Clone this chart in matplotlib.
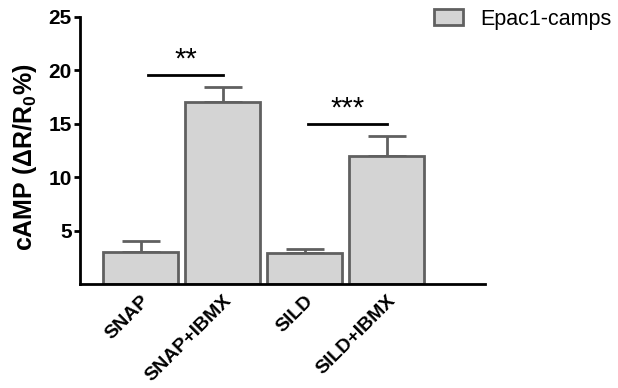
import matplotlib
matplotlib.use("Agg")
import matplotlib.pyplot as plt
import numpy as np

categories = ["SNAP", "SNAP+IBMX", "SILD", "SILD+IBMX"]
means = [3.0, 17.0, 2.9, 12.0]
errors = [1.0, 1.4, 0.4, 1.9]
yticks = [5, 10, 15, 20, 25]
# significance brackets: (x start, x end, height, label)
sig_marks = [(0.09, 1.0, 19.6, "**"), (2.04, 3.0, 15.0, "***")]

plt.rcParams["font.family"] = ["Liberation Sans", "DejaVu Sans"]
plt.rcParams["mathtext.fontset"] = "custom"
plt.rcParams["mathtext.rm"] = "Liberation Sans:bold"
plt.rcParams["mathtext.bf"] = "Liberation Sans:bold"

fill = "#d4d4d4"
edge = "#606060"

fig = plt.figure(figsize=(6.18, 3.88), dpi=100)
ax = fig.add_axes([80 / 618, 104 / 388, 405 / 618, 267 / 388])

x = np.arange(len(categories))
ax.bar(x, means, width=0.91, color=fill, edgecolor=edge, linewidth=2,
       label="Epac1-camps", zorder=2)
ax.errorbar(x, means, yerr=[np.zeros(len(errors)), errors], fmt="none",
            ecolor=edge, elinewidth=2, capsize=14, capthick=2, zorder=1)

for x0, x1, h, lab in sig_marks:
    ax.plot([x0, x1], [h, h], color="black", lw=2)
    ax.text((x0 + x1) / 2, h + 0.15, lab, ha="center", va="bottom",
            fontsize=21)

ax.set_xlim(-0.74, 4.2)
ax.set_ylim(0, 25)
ax.set_yticks(yticks)
ax.set_yticklabels([str(t) for t in yticks], fontsize=15, fontweight="bold")
ax.set_xticks(x)
ax.set_xticklabels(categories, rotation=45, ha="right", rotation_mode="anchor",
                   fontsize=14, fontweight="bold")
ax.tick_params(axis="x", length=0, pad=6)
ax.tick_params(axis="y", length=4, width=2, pad=2)
ax.spines["top"].set_visible(False)
ax.spines["right"].set_visible(False)
ax.spines["left"].set_linewidth(2)
ax.spines["bottom"].set_linewidth(2)
fig.text(25 / 618, 1 - 157 / 388, "cAMP (ΔR/R$_\\mathbf{0}$%)", rotation=90,
         ha="center", va="center", fontsize=18, fontweight="bold")

fig.legend(loc="center left", bbox_to_anchor=(434 / 618, 1 - 19 / 388),
           frameon=False, fontsize=15.5, handlelength=1.35, handleheight=0.7,
           handletextpad=0.8, borderpad=0, borderaxespad=0)

fig.savefig("out.png", dpi=100)
